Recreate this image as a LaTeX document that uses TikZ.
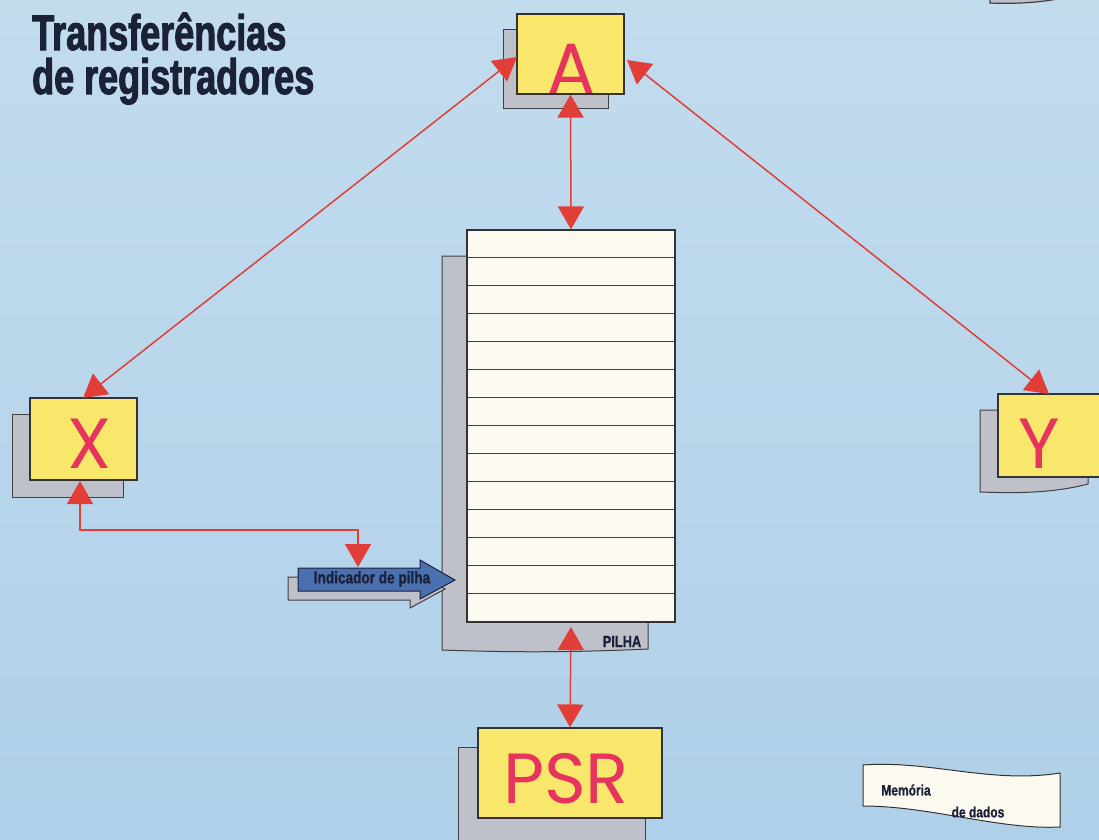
\documentclass[tikz,border=0pt]{standalone}
\usepackage{fontspec}
\setmainfont{Liberation Sans}
\newfontfamily\condfont[FakeStretch=0.72,FakeBold=2]{Liberation Sans Bold}
\newfontfamily\smallfont[FakeStretch=0.8,FakeBold=1]{Liberation Sans Bold}
\newfontfamily\letterfont{Poppins}
\usetikzlibrary{arrows.meta}
\definecolor{bgtop}{RGB}{194,220,238}
\definecolor{bgbot}{RGB}{176,208,233}
\definecolor{yel}{RGB}{249,231,108}
\definecolor{letred}{RGB}{230,52,92}
\definecolor{arrred}{RGB}{226,62,56}
\definecolor{shgray}{RGB}{190,192,202}
\definecolor{navy}{RGB}{28,33,58}
\definecolor{indblue}{RGB}{74,112,176}
\definecolor{paper}{RGB}{252,250,240}
\begin{document}
\begin{tikzpicture}[x=1pt,y=-1pt,
  reg/.style={draw=black!80, line width=1.2pt, fill=yel, inner sep=0pt},
  shad/.style={draw=black!75, line width=1pt, fill=shgray},
  letter/.style={text=letred, inner sep=0pt, font=\letterfont\fontsize{71}{71}\selectfont},
  biarrow/.style={draw=arrred, line width=1.5pt,
     {Triangle[length=23pt,width=26pt]}-{Triangle[length=23pt,width=26pt]}},
  titletext/.style={text=navy, inner sep=0pt, align=left, font=\condfont\fontsize{50}{44}\selectfont},
  smalllabel/.style={text=navy, inner sep=0pt}
]
% background
\shade[top color=bgtop, bottom color=bgbot] (0,0) rectangle (1099,839);
\useasboundingbox (0,0) rectangle (1099,839);

% stray edge top right
\filldraw[fill=shgray, draw=black!75, line width=1.2pt] (990,-2) -- (1062,-2) .. controls (1040,3) and (1010,4) .. (990,3) -- cycle;

% title
\node[titletext, anchor=base west] (title) at (32,94) {Transferências\\de registradores};

% shadows
\draw[shad] (503,29) rectangle (608,108);
\draw[shad] (12,414) rectangle (123,497);
\draw[shad] (980,410) -- (1088,410) -- (1088,484) .. controls (1050,494) and (1010,493) .. (980,492) -- cycle;
\draw[shad] (458,747) rectangle (645,845);
\draw[shad] (442,256) -- (648,256) -- (648,649) .. controls (560,653) and (500,652) .. (442,650) -- cycle;

% registers
\node[reg, minimum width=107pt, minimum height=80pt] (A) at (570.5,54) {};
\node[letter, anchor=base] (Alab) at (571,93) {A};
\node[reg, minimum width=107pt, minimum height=82pt] (X) at (83.5,439) {};
\node[letter, anchor=base] (Xlab) at (90,468) {X};
\node[reg, minimum width=110pt, minimum height=83pt] (Y) at (1053,435.5) {};
\node[letter, anchor=base] (Ylab) at (1039,468) {Y};
\node[reg, minimum width=184pt, minimum height=90pt] (PSR) at (570,773) {};
\node[letter, anchor=base] (Plab) at (566,803) {PSR};

% stack
\node[draw=black!80, line width=1.2pt, fill=paper, minimum width=208pt, minimum height=392pt, inner sep=0pt] (pilha) at (571,426) {};
\foreach \i in {1,...,13}{
  \draw[black!75, line width=1pt] (pilha.north west) ++(0,28*\i) -- ++(208,0);
}
\node[smalllabel, font=\smallfont\fontsize{16}{16}\selectfont, anchor=base] (pl) at (622,647) {PILHA};

% stack pointer arrow
\filldraw[fill=shgray, draw=black!75, line width=1pt] (288,577) -- (410,577) -- (410,569) -- (445,589) -- (410,608) -- (410,600) -- (288,600) -- cycle;
\filldraw[fill=indblue, draw=navy, line width=1pt] (298,568) -- (420,568) -- (420,560) -- (455,580) -- (420,599) -- (420,591) -- (298,591) -- cycle;
\node[smalllabel, font=\smallfont\fontsize{17}{17}\selectfont] (ind) at (372,579) {Indicador de pilha};
\coordinate (indtop) at (358,567);
\coordinate (elb) at (358,530);

% memory
\filldraw[fill=paper, draw=black!80, line width=1pt] (863,765) .. controls (930,760) and (990,784) .. (1060,773) -- (1060,827) .. controls (1000,830) and (930,806) .. (863,806) -- cycle;
\node[smalllabel, font=\smallfont\fontsize{15}{15}\selectfont] (mem) at (906,790) {Memória};
\node[smalllabel, font=\smallfont\fontsize{15}{15}\selectfont] (dados) at (978,812) {de dados};

% connectors
\coordinate (Atl) at (517,57);
\coordinate (Atr) at (627,60);
\coordinate (Xtop) at (83,398);
\coordinate (Ytop) at (1049,394);
\coordinate (Xbot) at (80,481);
\coordinate (pbot) at (571,627);
\draw[biarrow] (Atl) -- (Xtop);
\draw[biarrow] (Atr) -- (Ytop);
\draw[biarrow] (A.south) -- (pilha.north);
\draw[biarrow] (pbot) -- (PSR.north);
\draw[biarrow] (Xbot) |- (elb) -- (indtop);
\end{tikzpicture}
\end{document}
